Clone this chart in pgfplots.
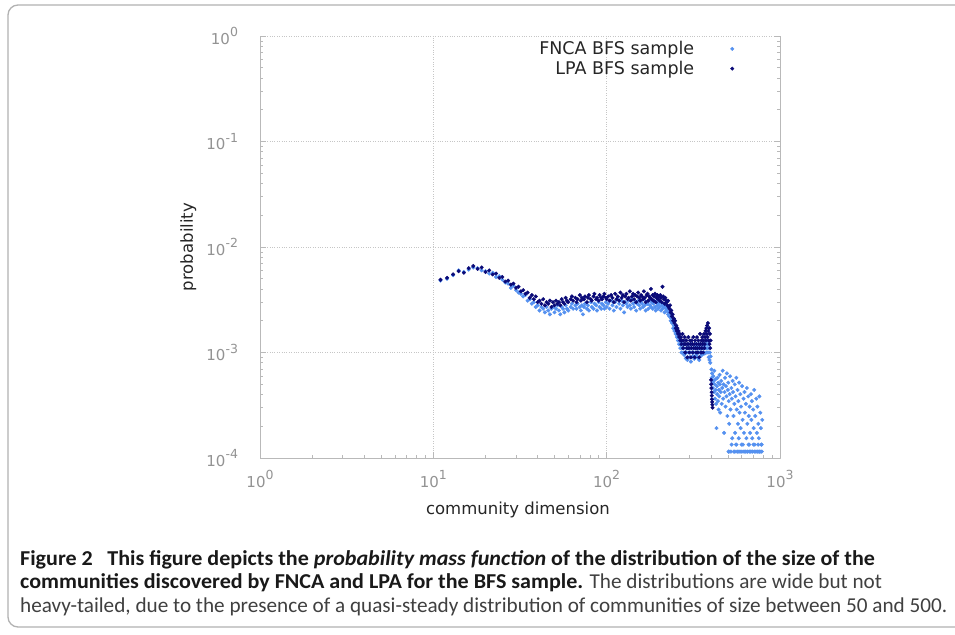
\documentclass[border=0pt]{standalone}
\usepackage{pgfplots}
\pgfplotsset{compat=1.18}
\usepackage{pgfplotstable}
\usepackage{fontspec}
\setmainfont{DejaVu Sans}
\newfontfamily\capfont[BoldFeatures={FakeStretch=1.04},BoldItalicFeatures={FakeStretch=1.04}]{Carlito}
\definecolor{fnca}{RGB}{85,145,240}
\definecolor{lpa}{RGB}{10,10,120}
\newcommand\sups[1]{\raisebox{0.5em}{\fontsize{12.5}{12.5}\selectfont #1}}
\pgfplotsset{dotlegend/.style={legend image code/.code={\path[draw=none,fill=none] (0pt,0pt) -- (40pt,0pt);\draw[##1] plot coordinates {(36pt,0pt)};}}}

\pgfplotstableread{
x p
11 0.0048
12 0.0050
13 0.0054
14 0.0060
15 0.0058
16 0.0061
17 0.0064
18 0.0063
19 0.0060
20 0.0059
21 0.0056
22 0.0057
23 0.0052
24 0.0053
25 0.0049
26 0.0046
27 0.0045
28 0.0041
29 0.0043
30 0.0039
31 0.0037
32 0.0036
33 0.0034
34 0.0035
35 0.0031
36 0.0032
37 0.0029
38 0.0030
39 0.0027
40 0.0028
41 0.0025
42 0.0027
43 0.0026
44 0.0024
45 0.0027
46 0.0025
47 0.0023
48 0.0026
49 0.0027
50 0.0024
51 0.0026
52 0.0028
53 0.0025
54 0.0023
55 0.0027
56 0.0026
57 0.0024
58 0.0028
59 0.0026
60 0.0025
62 0.0027
63 0.0029
64 0.0026
66 0.0028
67 0.0026
68 0.0029
70 0.0027
71 0.0025
72 0.0028
73 0.0023
74 0.0027
75 0.0029
77 0.0026
78 0.0028
79 0.0025
81 0.0030
82 0.0027
84 0.0026
85 0.0029
87 0.0028
88 0.0025
90 0.0030
91 0.0027
93 0.0026
94 0.0029
96 0.0028
97 0.0026
99 0.0030
100 0.0027
102 0.0029
104 0.0026
106 0.0031
108 0.0028
110 0.0025
112 0.0030
114 0.0027
116 0.0032
118 0.0029
120 0.0026
122 0.0031
124 0.0028
126 0.0024
128 0.0030
130 0.0029
132 0.0027
134 0.0031
136 0.0028
138 0.0026
140 0.0032
142 0.0029
144 0.0027
146 0.0030
148 0.0025
150 0.0029
152 0.0031
154 0.0028
156 0.0026
158 0.0030
160 0.0029
162 0.0027
164 0.0032
166 0.0028
168 0.0025
170 0.0030
172 0.0029
174 0.0026
176 0.0031
178 0.0028
180 0.0027
182 0.0030
184 0.0026
186 0.0029
188 0.0031
190 0.0027
192 0.0025
194 0.0030
196 0.0028
198 0.0026
200 0.0029
202 0.0027
204 0.0030
206 0.0025
208 0.0028
210 0.0026
212 0.0029
214 0.0027
216 0.0024
218 0.0028
220 0.0026
222 0.0025
224 0.0027
226 0.0023
228 0.0024
230 0.0022
232 0.0023
234 0.0020
236 0.0021
238 0.0019
240 0.0020
242 0.0017
244 0.0018
246 0.0016
248 0.0017
250 0.0015
252 0.0016
254 0.0014
256 0.0015
258 0.0013
260 0.0014
262 0.0012
264 0.0013
266 0.0011
268 0.0012
270 0.0010
272 0.0011
274 0.0012
276 0.0010
278 0.0011
280 0.00095
282 0.0012
284 0.0010
286 0.00088
288 0.0011
290 0.0010
292 0.00085
294 0.0011
296 0.0012
298 0.0010
300 0.00090
302 0.0011
304 0.0010
306 0.00082
308 0.0011
310 0.0012
312 0.0010
314 0.00092
316 0.0011
318 0.0010
320 0.00087
322 0.0011
324 0.0012
326 0.0010
328 0.00094
330 0.0011
332 0.0012
334 0.0010
336 0.00089
338 0.0011
340 0.0010
342 0.00085
344 0.0011
346 0.0012
348 0.0010
350 0.00093
352 0.0011
354 0.0010
356 0.0012
358 0.00096
360 0.0011
362 0.0010
364 0.0012
366 0.0011
368 0.00098
370 0.0012
372 0.0011
374 0.0013
376 0.0010
378 0.0012
380 0.0011
382 0.0013
384 0.0010
386 0.0012
388 0.00090
390 0.0011
392 0.00085
394 0.0010
396 0.00080
398 0.00092
402 0.000691
404 0.000576
406 0.000634
408 0.000518
410 0.000461
412 0.000595
414 0.000538
416 0.000422
418 0.000672
420 0.000499
422 0.000365
424 0.000557
426 0.000442
428 0.000326
430 0.000192
432 0.000480
434 0.000403
436 0.000576
438 0.000346
440 0.000518
442 0.000288
444 0.000442
446 0.000384
448 0.000614
450 0.000499
452 0.000269
455 0.000422
458 0.000538
461 0.000326
464 0.000461
467 0.000672
470 0.000365
473 0.000499
476 0.000173
479 0.000422
482 0.000576
485 0.000307
488 0.000480
491 0.000384
494 0.000634
497 0.000250
500 0.000442
503 0.000518
505 0.000115
506 0.000346
507 0.000115
509 0.000211
512 0.000403
515 0.000595
518 0.000288
521 0.000115
524 0.000461
526 0.000134
527 0.000365
530 0.000154
533 0.000538
536 0.000422
539 0.000250
542 0.000115
545 0.000326
548 0.000499
549 0.000115
551 0.000173
554 0.000384
557 0.000134
560 0.000576
561 0.000134
563 0.000288
566 0.000115
569 0.000442
572 0.000211
573 0.000115
575 0.000346
578 0.000154
581 0.000518
584 0.000269
587 0.000115
590 0.000403
593 0.000192
596 0.000307
597 0.000115
600 0.000134
604 0.000480
608 0.000230
611 0.000134
612 0.000115
616 0.000365
620 0.000173
622 0.000115
624 0.000422
628 0.000269
632 0.000115
636 0.000326
640 0.000154
644 0.000461
646 0.000115
648 0.000211
652 0.000115
656 0.000384
658 0.000134
660 0.000250
664 0.000134
667 0.000115
668 0.000307
672 0.000173
676 0.000115
680 0.000403
684 0.000230
688 0.000346
689 0.000115
692 0.000154
696 0.000115
700 0.000288
703 0.000134
705 0.000192
710 0.000442
712 0.000115
715 0.000134
720 0.000250
725 0.000115
730 0.000365
735 0.000173
737 0.000115
740 0.000307
745 0.000115
748 0.000134
750 0.000211
755 0.000154
758 0.000115
760 0.000384
765 0.000115
770 0.000269
775 0.000192
777 0.000115
780 0.000134
783 0.000134
785 0.000115
790 0.000230
}\fnca

\pgfplotstableread{
x p
11 0.0049
12 0.0051
13 0.0055
14 0.0059
15 0.0057
16 0.0063
17 0.0066
18 0.0062
19 0.0064
20 0.0058
21 0.0060
22 0.0055
23 0.0056
24 0.0051
25 0.0052
26 0.0047
27 0.0048
28 0.0044
29 0.0045
30 0.0041
31 0.0042
32 0.0038
33 0.0039
34 0.0036
35 0.0037
36 0.0033
37 0.0035
38 0.0032
39 0.0034
40 0.0030
41 0.0031
42 0.0029
43 0.0032
44 0.0028
45 0.0030
46 0.0029
47 0.0031
48 0.0027
49 0.0030
50 0.0028
51 0.0031
52 0.0029
53 0.0030
54 0.0028
55 0.0032
56 0.0030
57 0.0029
58 0.0033
59 0.0031
60 0.0030
62 0.0032
63 0.0034
64 0.0031
66 0.0033
67 0.0030
68 0.0032
70 0.0035
71 0.0031
72 0.0033
74 0.0032
75 0.0034
77 0.0030
78 0.0033
79 0.0035
81 0.0032
82 0.0031
84 0.0034
85 0.0036
87 0.0032
88 0.0033
90 0.0031
91 0.0035
93 0.0033
94 0.0032
96 0.0034
97 0.0036
99 0.0033
100 0.0032
102 0.0034
104 0.0031
106 0.0035
108 0.0033
110 0.0030
112 0.0036
114 0.0032
116 0.0034
118 0.0031
120 0.0037
122 0.0033
124 0.0035
126 0.0030
128 0.0034
130 0.0036
132 0.0032
134 0.0033
136 0.0038
138 0.0031
140 0.0034
142 0.0036
144 0.0032
146 0.0035
148 0.0030
150 0.0034
152 0.0037
154 0.0033
156 0.0031
158 0.0035
160 0.0034
162 0.0032
164 0.0038
166 0.0033
168 0.0030
170 0.0035
172 0.0036
174 0.0031
176 0.0034
178 0.0033
180 0.0040
182 0.0032
184 0.0035
186 0.0031
188 0.0034
190 0.0036
192 0.0030
194 0.0033
196 0.0035
198 0.0032
200 0.0034
202 0.0031
204 0.0035
206 0.0033
208 0.0030
210 0.0042
212 0.0034
214 0.0032
216 0.0029
218 0.0033
220 0.0031
222 0.0030
224 0.0028
226 0.0031
228 0.0027
230 0.0026
232 0.0028
234 0.0024
236 0.0025
238 0.0022
240 0.0023
242 0.0020
244 0.0021
246 0.0019
248 0.0020
250 0.0017
252 0.0018
254 0.0016
256 0.0017
258 0.0015
260 0.0016
262 0.0014
264 0.0015
266 0.0013
268 0.0014
270 0.0012
272 0.0013
274 0.0015
276 0.0011
278 0.0013
280 0.0012
282 0.0014
284 0.0010
286 0.0012
288 0.0013
290 0.0011
292 0.0009
294 0.0012
296 0.0014
298 0.0011
300 0.0010
302 0.0013
304 0.0012
306 0.0009
308 0.0011
310 0.0013
312 0.0012
314 0.0010
316 0.0014
318 0.0011
320 0.0012
322 0.0009
324 0.0013
326 0.0011
328 0.0010
330 0.0012
332 0.0014
334 0.0011
336 0.0010
338 0.0013
340 0.0012
342 0.0009
344 0.0011
346 0.0015
348 0.0012
350 0.0010
352 0.0013
354 0.0011
356 0.0014
358 0.0012
360 0.0010
362 0.0013
364 0.0015
366 0.0011
368 0.0012
370 0.0014
372 0.0016
374 0.0013
376 0.0017
378 0.0015
380 0.0018
382 0.0014
384 0.0019
386 0.0016
388 0.0013
390 0.0017
392 0.0012
394 0.0015
396 0.0011
398 0.0013
400 0.00055
401 0.00050
402 0.00046
403 0.00042
404 0.00039
405 0.00036
406 0.00034
407 0.00032
408 0.00030
}\lpa

\begin{document}
\begin{tikzpicture}[x=1pt,y=1pt]
\useasboundingbox (0,0) rectangle (955,634);
\fill[white] (0,0) rectangle (955,634);
\draw[gray!60, line width=1.3pt, rounded corners=10pt] (8,7) rectangle (990,629);
\begin{axis}[
  at={(260pt,176pt)}, anchor=south west,
  scale only axis, width=520pt, height=422pt,
  xmode=log, ymode=log,
  xmin=1, xmax=1000, ymin=1e-4, ymax=1,
  axis x line=bottom, axis y line=box,
  axis line style={-, gray!55, line width=0.8pt},
  tick align=inside, major tick length=6pt, minor tick length=3pt,
  tick style={gray!55, line width=0.6pt},
  grid=major, major grid style={gray!45, dotted, line width=0.8pt},
  xtick={1,10,100,1000},
  xticklabels={10\sups{0},10\sups{1},10\sups{2},10\sups{3}},
  minor xtick={2,3,4,5,6,7,8,9,20,30,40,50,60,70,80,90,200,300,400,500,600,700,800,900},
  ytick={1e-4,1e-3,1e-2,1e-1,1},
  yticklabels={10\sups{-4},10\sups{-3},10\sups{-2},10\sups{-1},10\sups{0}},
  minor ytick={2e-4,3e-4,4e-4,5e-4,6e-4,7e-4,8e-4,9e-4,2e-3,3e-3,4e-3,5e-3,6e-3,7e-3,8e-3,9e-3,2e-2,3e-2,4e-2,5e-2,6e-2,7e-2,8e-2,9e-2,0.2,0.3,0.4,0.5,0.6,0.7,0.8,0.9},
  ticklabel style={font=\fontsize{15}{15}\selectfont, text=gray!85},
  xticklabel style={anchor=base, yshift=-29pt},
  yticklabel style={anchor=east, xshift=-18.5pt},
  xlabel={community dimension}, ylabel={probability},
  label style={font=\fontsize{16.5}{17}\selectfont, text=black!85},
  xlabel style={at={(axis description cs:0.496,-0.123)}, anchor=center},
  ylabel style={at={(axis description cs:-0.138,0.5)}, anchor=center},
  legend style={draw=none, fill=none, at={(axis description cs:0.922,0.997)}, anchor=north east,
    font=\fontsize{17.5}{17.5}\selectfont, text=black!85, row sep=1pt},
  legend cell align=right, legend plot pos=right,
]
\addplot[only marks, color=fnca, mark=*, mark size=1.8pt, mark options={fill=fnca, draw=none}, dotlegend] table[x=x, y=p] {\fnca};
\addlegendentry{FNCA BFS sample}
\addplot[only marks, color=lpa, mark=*, mark size=1.8pt, mark options={fill=lpa, draw=none}, dotlegend] table[x=x, y=p] {\lpa};
\addlegendentry{LPA BFS sample}
\end{axis}
\node[anchor=base west, inner sep=0pt, font=\capfont\fontsize{21.2}{24}\selectfont, text=black!90] at (20,68.5)
  {\textbf{Figure 2\hspace{0.45em} This figure depicts the \textit{probability mass function} of the distribution of the size of the}};
\node[anchor=base west, inner sep=0pt, font=\capfont\fontsize{21.2}{24}\selectfont, text=black!90] at (20,45)
  {\textbf{communities discovered by FNCA and LPA for the BFS sample.} \textcolor{black!75}{The distributions are wide but not}};
\node[anchor=base west, inner sep=0pt, font=\capfont\fontsize{21.2}{24}\selectfont, text=black!75] at (20,21.5)
  {heavy-tailed, due to the presence of a quasi-steady distribution of communities of size between 50 and 500.};
\end{tikzpicture}
\end{document}
